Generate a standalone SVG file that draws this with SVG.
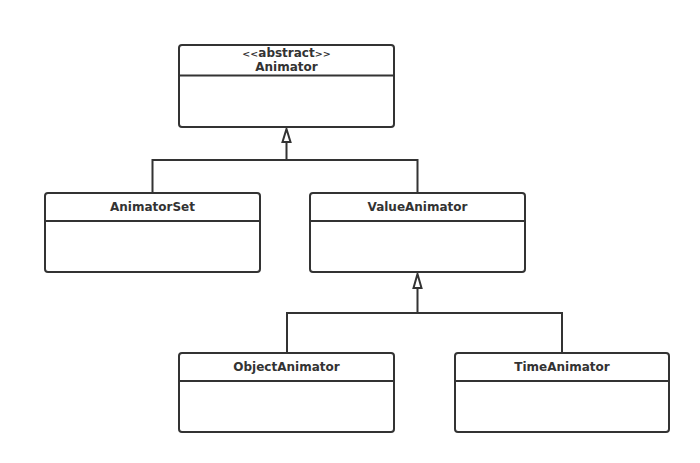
<svg xmlns="http://www.w3.org/2000/svg" width="700" height="463" viewBox="0 0 700 463">
<defs>
<style>
.box{fill:#fff;stroke:#333;stroke-width:2}
.div{stroke:#333;stroke-width:2;fill:none}
.t{font-family:"DejaVu Sans","Liberation Sans",sans-serif;font-weight:bold;font-size:12px;fill:#333;text-anchor:middle}
.sm{font-size:9.5px}
.c{stroke:#333;stroke-width:2;fill:none}
.tri{fill:#fff;stroke:#333;stroke-width:2}
</style>
</defs>
<rect width="700" height="463" fill="#fff"/>
<g id="connectors">
<path class="c" d="M286.5,142 V160 M152.5,193 V160 H417.5 V193"/>
<path class="tri" d="M286.5,129 L290.5,142 L282.5,142 Z"/>
<path class="c" d="M417.5,288 V313 M287,353 V313 H562 V353"/>
<path class="tri" d="M417.5,274 L421.5,288 L413.5,288 Z"/>
</g>
<g id="Animator">
<rect class="box" x="179" y="45" width="215" height="82" rx="3"/>
<line class="div" x1="179" y1="75.5" x2="394" y2="75.5"/>
<text class="t" x="286.5" y="57"><tspan class="sm">&lt;&lt;</tspan>abstract<tspan class="sm">&gt;&gt;</tspan></text>
<text class="t" x="286.5" y="71">Animator</text>
</g>
<g id="AnimatorSet">
<rect class="box" x="45" y="193" width="215" height="79" rx="3"/>
<line class="div" x1="45" y1="221" x2="260" y2="221"/>
<text class="t" x="152.5" y="211">AnimatorSet</text>
</g>
<g id="ValueAnimator">
<rect class="box" x="310" y="193" width="215" height="79" rx="3"/>
<line class="div" x1="310" y1="221" x2="525" y2="221"/>
<text class="t" x="417.5" y="211">ValueAnimator</text>
</g>
<g id="ObjectAnimator">
<rect class="box" x="179" y="353" width="215" height="79" rx="3"/>
<line class="div" x1="179" y1="381" x2="394" y2="381"/>
<text class="t" x="286.5" y="371">ObjectAnimator</text>
</g>
<g id="TimeAnimator">
<rect class="box" x="455" y="353" width="214" height="79" rx="3"/>
<line class="div" x1="455" y1="381" x2="669" y2="381"/>
<text class="t" x="562" y="371">TimeAnimator</text>
</g>
</svg>
